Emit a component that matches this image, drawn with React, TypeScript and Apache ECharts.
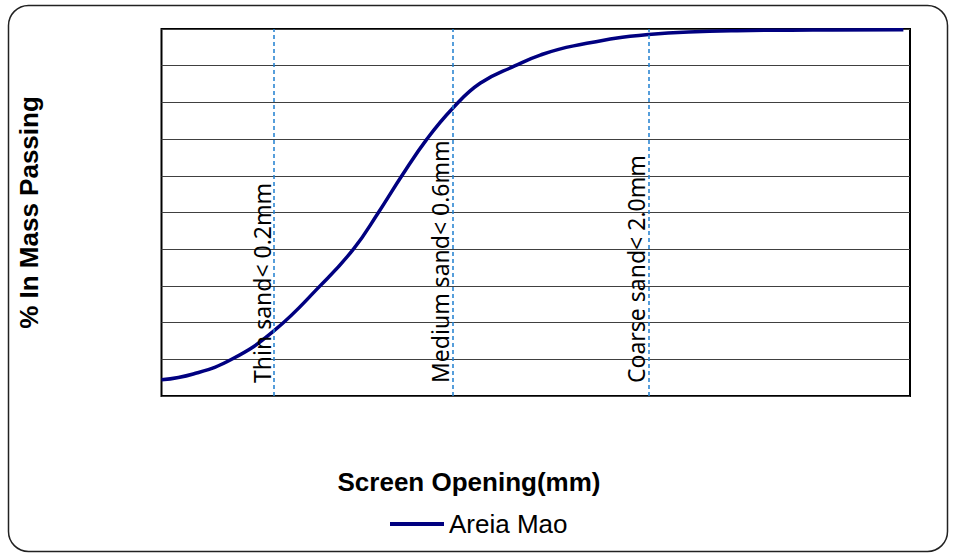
import React, { useEffect, useRef } from "react";
import * as echarts from "echarts";

const seriesName = "Areia Mao";
const sizesMm = [0.1, 0.1216, 0.154, 0.2, 0.2653, 0.3257, 0.3799, 0.4387, 0.5118, 0.6, 0.71, 0.8815, 1.028, 1.262, 2.0, 3.75, 5.5, 9.6];
const passingPct = [4.4, 6.0, 10, 17.8, 30, 40, 50, 60, 70, 78.4, 85.2, 90, 92.9, 95.4, 98.5, 99.6, 99.7, 99.8];
const limitValues = [0.2, 0.6, 2.0];
const limitLabels = ["Thin sand< 0.2mm", "Medium sand< 0.6mm", "Coarse sand< 2.0mm"];
const xTitle = "Screen Opening(mm)";
const yTitle = "% In Mass Passing";

export default function App() {
  const ref = useRef<HTMLDivElement>(null);
  useEffect(() => {
    document.body.style.margin = "0";
    const chart = echarts.init(ref.current!, null, { renderer: "svg" });
    const data = sizesMm.map((s, i) => [s, passingPct[i]]);
    chart.setOption({
      animation: false,
      backgroundColor: "#fff",
      title: {
        text: xTitle,
        left: 464,
        top: 464,
        textAlign: "center",
        textStyle: { fontFamily: "Liberation Sans", fontWeight: "bold", fontSize: 26, color: "#000" },
      },
      legend: {
        left: 385,
        top: 506,
        itemWidth: 54,
        itemHeight: 4,
        itemGap: 10,
        textStyle: { fontFamily: "Liberation Sans", fontSize: 26, color: "#000" },
        data: [{ name: seriesName, icon: "rect" }],
      },
      graphic: [
        {
          type: "rect",
          shape: { x: 8.5, y: 5.5, width: 939, height: 546, r: 20 },
          style: { fill: "none", stroke: "#222", lineWidth: 1.5 },
          silent: true,
          z: -1,
        },
      ],
      grid: {
        left: 161.5,
        right: 46,
        top: 29,
        bottom: 159,
        show: true,
        borderColor: "#000",
        borderWidth: 2,
        backgroundColor: "transparent",
      },
      xAxis: {
        type: "log",
        min: 0.1,
        max: 10,
        logBase: 10,
        axisLine: { show: false },
        axisTick: { show: false },
        axisLabel: { show: false },
        splitLine: { show: false },
      },
      yAxis: {
        type: "value",
        min: 0,
        max: 100,
        interval: 10,
        name: yTitle,
        nameLocation: "middle",
        nameGap: 120,
        nameTextStyle: { fontFamily: "Liberation Sans", fontWeight: "bold", fontSize: 26, color: "#000" },
        axisLine: { show: false },
        axisTick: { show: false },
        axisLabel: { show: false },
        splitLine: { show: true, lineStyle: { color: "#404040", width: 1 } },
      },
      series: [
        {
          name: seriesName,
          type: "line",
          data,
          smooth: 0.45,
          symbol: "none",
          lineStyle: { color: "#000080", width: 3.5 },
          itemStyle: { color: "#000080" },
          markLine: {
            silent: true,
            symbol: ["none", "none"],
            lineStyle: { color: "#1f7fd0", type: [4, 3], width: 1.5 },
            label: {
              show: true,
              position: "insideStartTop",
              formatter: "{b}",
              fontFamily: "Noto Sans",
              fontSize: 23,
              color: "#000",
              distance: [13, 1],
            },
            data: limitValues.map((v, i) => ({ xAxis: v, name: limitLabels[i] })),
          },
        },
      ],
    });
    return () => chart.dispose();
  }, []);
  return <div ref={ref} style={{ width: 956, height: 555 }} />;
}
